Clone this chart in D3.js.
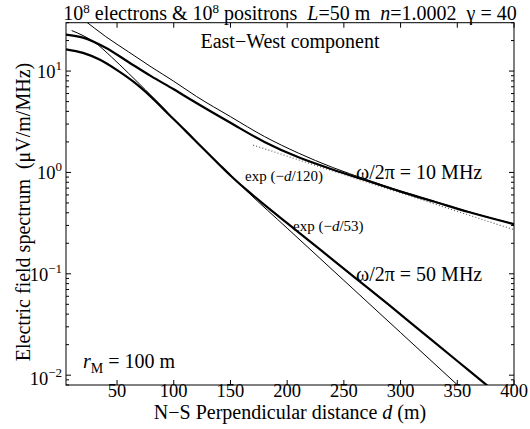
<!DOCTYPE html>
<html><head><meta charset="utf-8">
<script src="https://cdn.jsdelivr.net/npm/d3@7/dist/d3.min.js"></script>
<style>
body{margin:0;background:#fff;}
svg text{font-family:"Liberation Serif","Times New Roman",serif;fill:#000;white-space:pre;}
</style></head>
<body><svg id="c" width="530" height="429"></svg>
<script>
// distances (m)
const dThick10 = [5,20,40,60,80,100,120,150,180,210,240,270,300,330,360,400];
const eThick10 = [22.9,21.4,17.0,12.3,8.91,6.61,4.84,3.09,2.00,1.41,1.07,0.832,0.646,0.513,0.407,0.309];
const dThin10  = [10,20,40,60,80,100,120,150,180,210,240,270,300,330,360,400];
const eThin10  = [39.4,32.4,21.9,15.5,11.0,7.94,5.62,3.55,2.26,1.55,1.12,0.851,0.656,0.518,0.409,0.31];
const dThick50 = [5,20,35,50,65,80,95,110,125,140,150,165,180,200,230,260,290,320,350,373,400];
const eThick50 = [16.4,15.1,12.9,10.2,7.76,5.56,3.80,2.60,1.76,1.20,0.933,0.661,0.479,0.316,0.170,0.0912,0.0490,0.0260,0.0138,0.00851,0.00479];
const dThin50  = [10,20,30,45,60,75,90,105,120,135,150,165,200,250,300,350,400];
const eThin50  = [25.1,22.4,19.3,13.8,9.55,6.53,4.42,2.95,2.02,1.38,0.944,0.646,0.282,0.0861,0.0263,0.00804,0.00245];
const dExp120 = [170,400];
const eExp120 = [1.86,0.272];
const xTicks = [50,100,150,200,250,300,350,400];
const yTicks = [0.01,0.1,1,10];
const yTickExp = ["\u22122","\u22121","0","1"];

const svg = d3.select("#c");
const L=66, R=514, T=22.7, B=385;
const x = d3.scaleLinear().domain([5,400]).range([L,R]);
const y = d3.scaleLog().domain([0.008,30]).range([B,T]);

svg.append("clipPath").attr("id","clip").append("rect")
  .attr("x",L).attr("y",T).attr("width",R-L).attr("height",B-T);

const line = d3.line().x(d=>x(d[0])).y(d=>y(d[1])).curve(d3.curveMonotoneX);
const g = svg.append("g").attr("clip-path","url(#clip)");
function series(ds,es,w,dash,col){
  g.append("path").datum(ds.map((d,i)=>[d,es[i]])).attr("d",line)
   .attr("fill","none").attr("stroke",col||"#000").attr("stroke-width",w)
   .attr("stroke-dasharray",dash||null);
}
series(dExp120,eExp120,1.1,"1,2.2","#555");
series(dThin10,eThin10,1);
series(dThin50,eThin50,1);
series(dThick10,eThick10,2.2);
series(dThick50,eThick50,2.2);

// box
svg.append("rect").attr("x",L).attr("y",T).attr("width",R-L).attr("height",B-T)
  .attr("fill","none").attr("stroke","#000").attr("stroke-width",1);

const FT = 18.5, FS = 13;
// x ticks
const ax = svg.append("g");
xTicks.forEach(t=>{
  const px=x(t);
  ax.append("line").attr("x1",px).attr("x2",px).attr("y1",B).attr("y2",B-5).attr("stroke","#000");
  ax.append("line").attr("x1",px).attr("x2",px).attr("y1",T).attr("y2",T+5).attr("stroke","#000");
  ax.append("text").attr("x",px).attr("y",396.5).attr("text-anchor","middle")
    .attr("font-size",FT).text(t);
});
// y ticks (major + minor)
const minor=[];
[0.001,0.01,0.1,1,10].forEach(dec=>{for(let k=2;k<=9;k++){const v=dec*k; if(v>=0.008&&v<=30) minor.push(v);}});
minor.forEach(v=>{
  const py=y(v);
  ax.append("line").attr("x1",L).attr("x2",L+3).attr("y1",py).attr("y2",py).attr("stroke","#000");
  ax.append("line").attr("x1",R).attr("x2",R-3).attr("y1",py).attr("y2",py).attr("stroke","#000");
});
yTicks.forEach((v,i)=>{
  const py=y(v);
  ax.append("line").attr("x1",L).attr("x2",L+5).attr("y1",py).attr("y2",py).attr("stroke","#000");
  ax.append("line").attr("x1",R).attr("x2",R-5).attr("y1",py).attr("y2",py).attr("stroke","#000");
  const by = py+7;
  const t = ax.append("text").attr("x",62).attr("y",by+(i===0?3:0)).attr("text-anchor","end").attr("font-size",FT);
  t.append("tspan").text("10");
  t.append("tspan").attr("dy",-8).attr("font-size",FS).text(yTickExp[i]);
});

const FM = 20;
// title
const ti = svg.append("text").attr("x",290).attr("y",19.5).attr("text-anchor","middle").attr("font-size",FM);
ti.append("tspan").text("10");
ti.append("tspan").attr("dy",-7).attr("font-size",FS).text("8");
ti.append("tspan").attr("dy",7).text(" electrons & 10");
ti.append("tspan").attr("dy",-7).attr("font-size",FS).text("8");
ti.append("tspan").attr("dy",7).text(" positrons  ");
ti.append("tspan").attr("font-style","italic").text("L");
ti.append("tspan").text("=50 m  ");
ti.append("tspan").attr("font-style","italic").text("n");
ti.append("tspan").text("=1.0002  \u03b3 = 40");

svg.append("text").attr("x",290).attr("y",48).attr("text-anchor","middle").attr("font-size",FM)
  .text("East\u2212West component");

// axis labels
const xl = svg.append("text").attr("x",290).attr("y",419).attr("text-anchor","middle").attr("font-size",FM);
xl.append("tspan").text("N\u2212S Perpendicular distance ");
xl.append("tspan").attr("font-style","italic").text("d");
xl.append("tspan").text(" (m)");

svg.append("text").attr("transform","translate(30,212) rotate(-90)").attr("text-anchor","middle")
  .attr("font-size",FM).text("Electric field spectrum  (\u03bcV/m/MHz)");

// annotations
svg.append("text").attr("x",356).attr("y",179).attr("font-size",FM).text("\u03c9/2\u03c0 = 10 MHz");
svg.append("text").attr("x",356).attr("y",281).attr("font-size",FM).text("\u03c9/2\u03c0 = 50 MHz");
const e1 = svg.append("text").attr("x",245).attr("y",181).attr("font-size",15);
e1.append("tspan").text("exp (\u2212");
e1.append("tspan").attr("font-style","italic").text("d");
e1.append("tspan").text("/120)");
const e2 = svg.append("text").attr("x",293).attr("y",231).attr("font-size",15);
e2.append("tspan").text("exp (\u2212");
e2.append("tspan").attr("font-style","italic").text("d");
e2.append("tspan").text("/53)");

const rm = svg.append("text").attr("x",83).attr("y",368).attr("font-size",FM);
rm.append("tspan").attr("font-style","italic").text("r");
rm.append("tspan").attr("dy",5).attr("font-size",FS+1).text("M");
rm.append("tspan").attr("dy",-5).text(" = 100 m");
</script></body></html>
